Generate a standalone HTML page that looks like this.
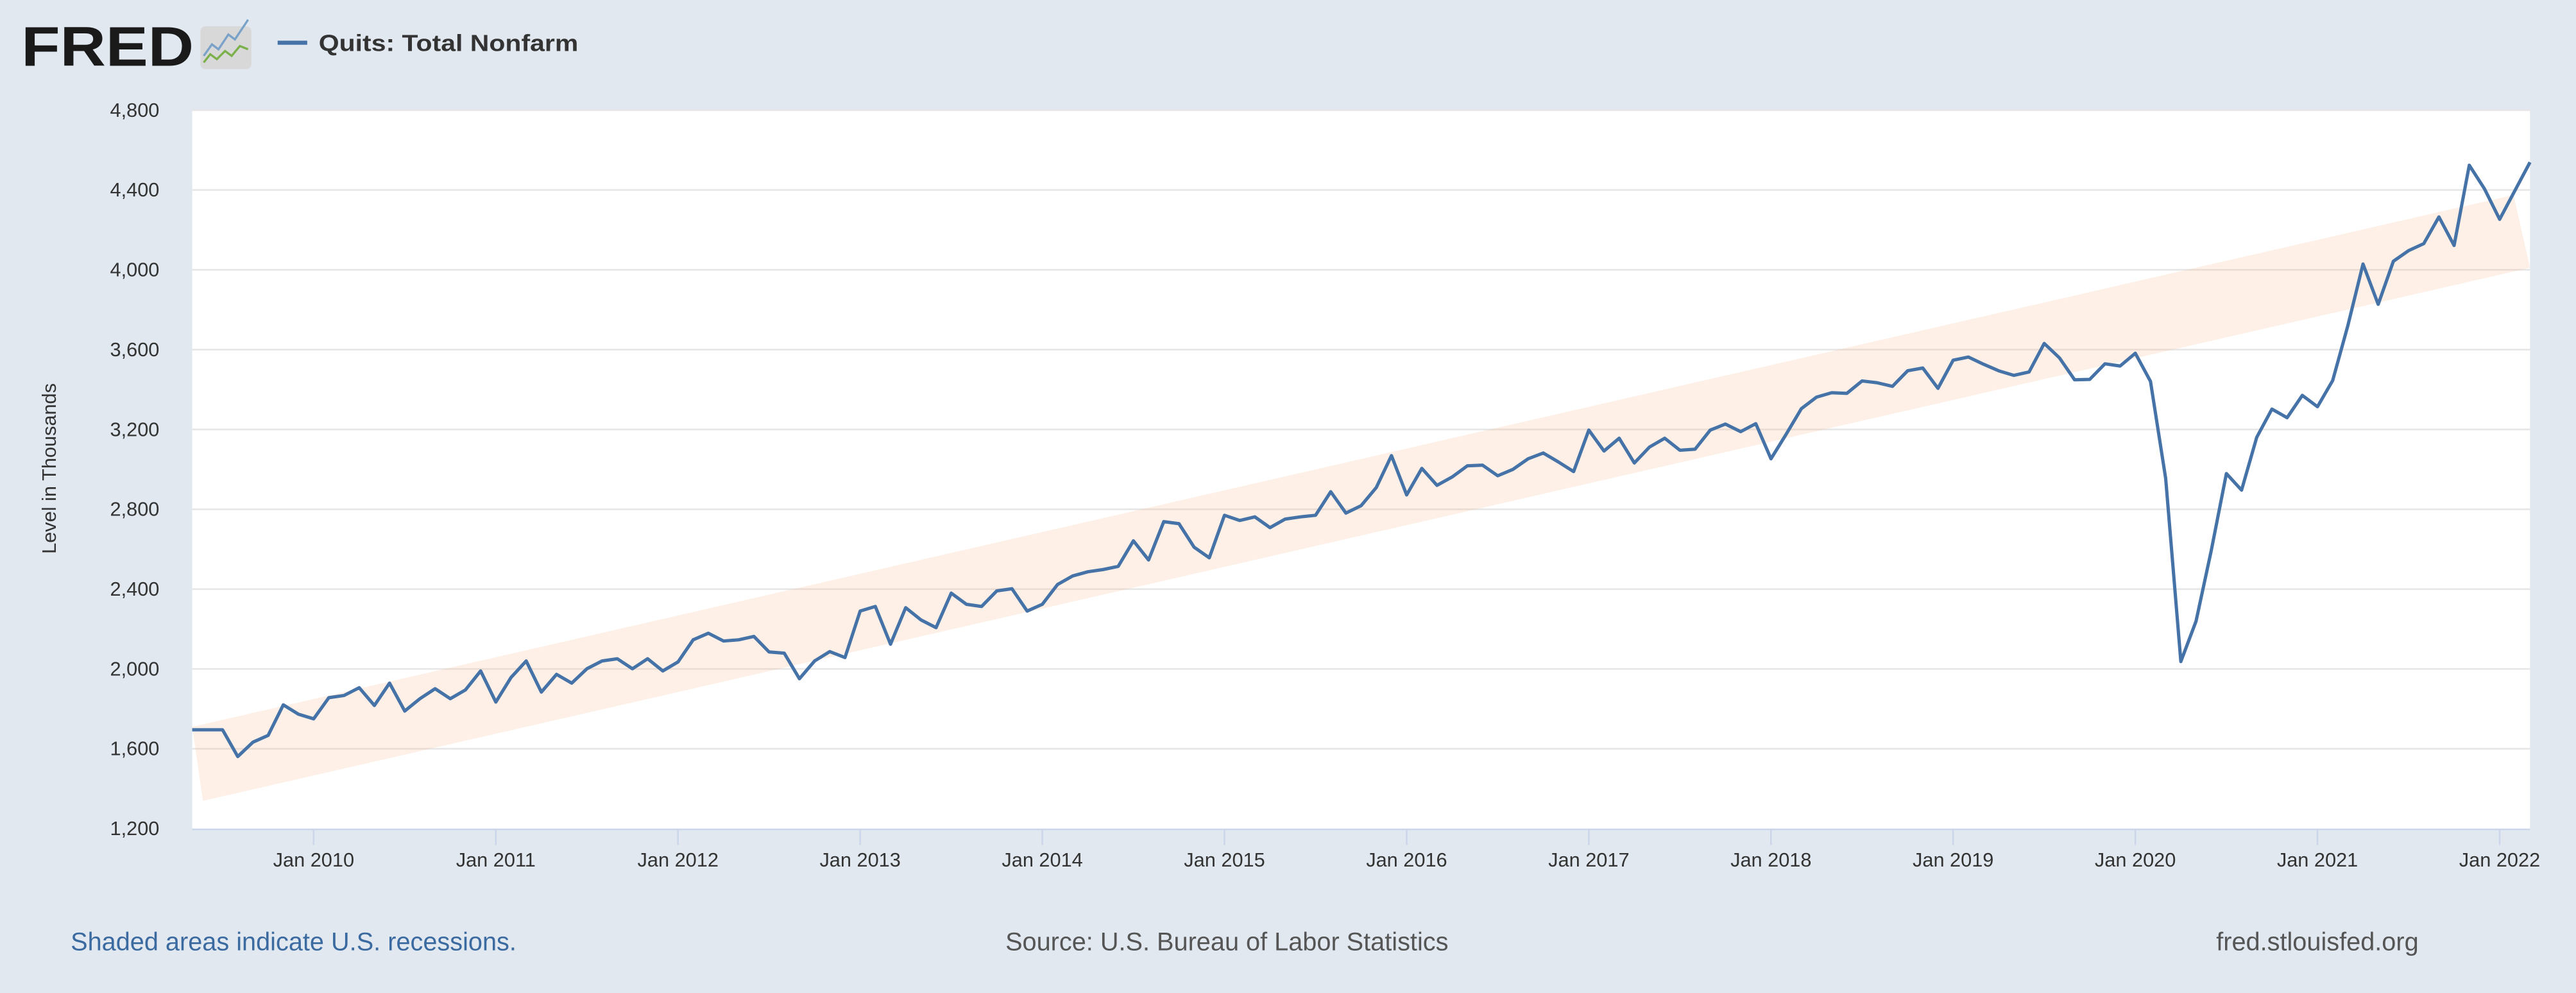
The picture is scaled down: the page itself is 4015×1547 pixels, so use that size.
<!DOCTYPE html>
<html><head><meta charset="utf-8"><style>
html,body{margin:0;padding:0;background:#e1e8f0;}
svg{display:block;font-family:"Liberation Sans",Arial,sans-serif;}
</style></head><body>
<svg id="chart" width="4015" height="1547" viewBox="0 0 1568 604" preserveAspectRatio="none" xmlns="http://www.w3.org/2000/svg">
<rect x="0" y="0" width="1568" height="604" fill="#e1e8f0"/>
<g>
<text x="13" y="40" font-size="34" font-weight="bold" fill="#1a1a1a" textLength="105" lengthAdjust="spacingAndGlyphs">FRED</text>
<rect x="122" y="16" width="31" height="26" rx="3" fill="#d8d8d8"/>
<polyline points="124,34 129,27 133,30 139,21 143,24 151,12" fill="none" stroke="#7aa2c8" stroke-width="1.3"/>
<polyline points="124,38 128,33 132,36 137,31 141,34 146,28 151,30" fill="none" stroke="#7bb04a" stroke-width="1.3"/>
</g>
<line x1="169" y1="26" x2="187" y2="26" stroke="#4572a7" stroke-width="2.5"/>
<text x="194" y="31" font-size="14" font-weight="bold" fill="#333" textLength="158" lengthAdjust="spacingAndGlyphs">Quits: Total Nonfarm</text>
<rect x="117" y="67" width="1423" height="437" fill="#ffffff"/>
<g id="grid"></g>
<g id="band"></g>
<g id="series"></g>
<g id="axes"></g>
<text x="0" y="0" transform="translate(34,285) rotate(-90)" text-anchor="middle" font-size="12" fill="#333">Level in Thousands</text>
<text x="43" y="578" font-size="15.5" fill="#3b6aa0">Shaded areas indicate U.S. recessions.</text>
<text x="612" y="578" font-size="15.5" fill="#555">Source: U.S. Bureau of Labor Statistics</text>
<text x="1349" y="578" font-size="15.5" fill="#555">fred.stlouisfed.org</text>
</svg>
<script>
// data: monthly, starting May 2009
const startYear = 2009;
const startMonth = 4; // May (0-based)
const quits2009_2013 = [1695,1695,1695,1561,1633,1667,1820,1773,
1750,1856,1867,1906,1817,1929,1789,1851,1901,1851,1895,1990,
1834,1957,2040,1884,1973,1929,2001,2040,2051,2001,2051,1990,
2035,2146,2179,2140,2146,2163,2085,2079,1951,2040,2087,2057,
2290,2313,2124,2307,2246,2207,2380,2324,2313,2391,2402,2290];
const quits2014_2018 = [2324,2423,2466,2487,2498,2514,2642,2546,2738,2728,2610,2557,
2770,2744,2762,2708,2751,2762,2770,2888,2781,2818,2909,3069,
2872,3005,2920,2962,3018,3021,2968,3000,3053,3082,3037,2989,
3197,3092,3156,3032,3112,3156,3096,3101,3197,3227,3189,3229,
3053,3176,3304,3362,3384,3381,3443,3434,3416,3494,3508,3406];
const quits2019_2022 = [3547,3563,3527,3494,3471,3488,3631,3559,3449,3451,3529,3518,
3582,3441,2955,2037,2239,2592,2979,2896,3161,3302,3259,3371,
3314,3445,3720,4029,3827,4043,4096,4131,4265,4122,4524,4406,
4253,4396,4539];
const yTicks = [1200,1600,2000,2400,2800,3200,3600,4000,4400,4800];
const yTickLabels = ["1,200","1,600","2,000","2,400","2,800","3,200","3,600","4,000","4,400","4,800"];
const xTickYears = [2010,2011,2012,2013,2014,2015,2016,2017,2018,2019,2020,2021,2022];
const bandStartUpper = 1710, bandStartLower = 1339;
const bandEndUpper = 4375, bandEndLower = 4010;

const values = quits2009_2013.concat(quits2014_2018, quits2019_2022);
const NS = "http://www.w3.org/2000/svg";
const X0 = 117, X1 = 1540, Y0 = 504, Y1 = 67;
const nMonths = values.length - 1;
function xScale(i){ return X0 + (X1 - X0) * i / nMonths; }
function monthIndex(y, m){ return (y - startYear) * 12 + (m - startMonth); }
function yScale(v){ return Y0 - (v - 1200) / (4800 - 1200) * (Y0 - Y1); }
function mk(tag, attrs, parent){ const e = document.createElementNS(NS, tag); for (const k in attrs) e.setAttribute(k, attrs[k]); parent.appendChild(e); return e; }

const grid = document.getElementById('grid');
const axes = document.getElementById('axes');
yTicks.forEach((t, i) => {
  if (i > 0) {
    const g = mk('line', {x1: X0, x2: X1, y1: yScale(t), y2: yScale(t), stroke: '#e6e6e6', 'stroke-width': 1}, grid);
    
    
  }
  const lb = mk('text', {x: 97, y: yScale(t) + 4, 'text-anchor': 'end', 'font-size': 12, fill: '#333'}, axes);
  lb.textContent = yTickLabels[i];
  
  
});
const ax = mk('line', {x1: X0, x2: X1, y1: Y0 + 0.5, y2: Y0 + 0.5, stroke: '#ccd6eb', 'stroke-width': 1}, axes);


xTickYears.forEach(yr => {
  const x = xScale(monthIndex(yr, 0));
  const tk = mk('line', {x1: x, x2: x, y1: Y0, y2: Y0 + 10, stroke: '#ccd6eb', 'stroke-width': 1}, axes);
  
  
  const lb = mk('text', {x: x, y: 527, 'text-anchor': 'middle', 'font-size': 12, fill: '#333'}, axes);
  lb.textContent = 'Jan ' + yr;
  
  
});

const band = document.getElementById('band');
const pts = [[117, bandStartUpper], [1530, bandEndUpper], [1540, bandEndLower], [123.5, bandStartLower]]
  .map(p => p[0] + ',' + yScale(p[1])).join(' ');
const bp = mk('polygon', {points: pts, fill: 'rgba(248,180,130,0.2)'}, band);



const series = document.getElementById('series');
const line = mk('polyline', {points: values.map((v, i) => xScale(i) + ',' + yScale(v)).join(' '), fill: 'none', stroke: '#4572a7', 'stroke-width': 2, 'stroke-linejoin': 'round'}, series);


</script>
</body></html>
